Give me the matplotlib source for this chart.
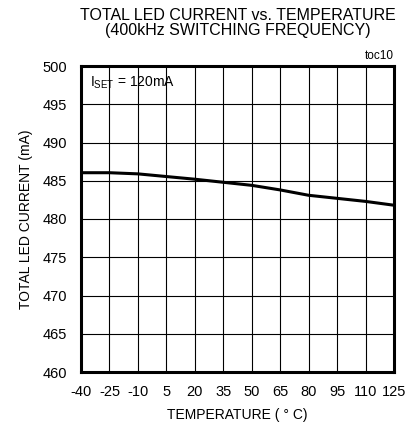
import matplotlib.pyplot as plt

plt.rcParams['font.family'] = ['Liberation Sans', 'DejaVu Sans']
plt.rcParams['axes.unicode_minus'] = False

temperature = [-40, -25, -10, 5, 20, 35, 50, 65, 80, 95, 110, 125]
current = [486.05, 486.05, 485.9, 485.55, 485.2, 484.8, 484.4, 483.8, 483.1, 482.7, 482.3, 481.8]
x_ticks = [-40, -25, -10, 5, 20, 35, 50, 65, 80, 95, 110, 125]
y_ticks = [460, 465, 470, 475, 480, 485, 490, 495, 500]

fig = plt.figure(figsize=(4.17, 4.24), dpi=100)
ax = fig.add_axes([81 / 417, 1 - 372 / 424, 313 / 417, 306 / 424])

ax.plot(temperature, current, color='black', linewidth=2.2, zorder=3)

ax.set_xlim(-40, 125)
ax.set_ylim(460, 500)
ax.set_xticks(x_ticks)
ax.set_yticks(y_ticks)
ax.tick_params(length=0, labelsize=10.5)
ax.tick_params(axis='x', pad=9)
ax.tick_params(axis='y', pad=10)
ax.grid(True, color='black', linewidth=0.8)
for s in ax.spines.values():
    s.set_linewidth(2.2)

ax.set_xlabel('TEMPERATURE ( ° C)', fontsize=10, labelpad=7)
ax.set_ylabel('TOTAL LED CURRENT (mA)', fontsize=10, labelpad=7)
ax.text(-35.5, 497.8, r'I$_{\mathregular{SET}}$ = 120mA', fontsize=10, va='center', ha='left')
ax.text(1.0, 1.012, 'toc10', transform=ax.transAxes, fontsize=8.5, ha='right', va='bottom')

fig.text(238 / 417, 1 - 23 / 424, 'TOTAL LED CURRENT vs. TEMPERATURE\n(400kHz SWITCHING FREQUENCY)',
         fontsize=11.5, ha='center', va='center', linespacing=1.05)

fig.savefig('out.png', dpi=100)
